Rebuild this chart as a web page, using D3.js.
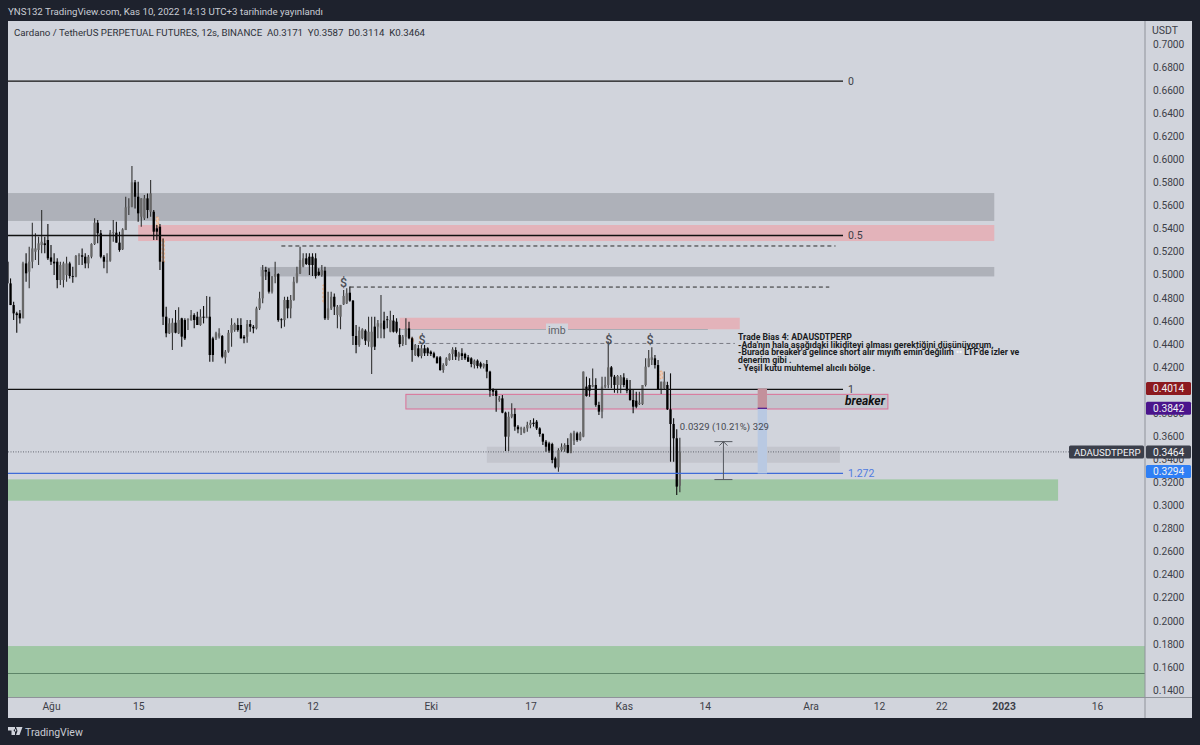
<!DOCTYPE html>
<html>
<head>
<meta charset="utf-8">
<script src="https://cdn.jsdelivr.net/npm/d3@7"></script>
<style>
html, body { margin: 0; padding: 0; background: #1e222d; }
svg { display: block; font-family: Roboto, "Noto Sans", sans-serif; }
</style>
</head>
<body>
<svg id="chart" width="1200" height="745"></svg>
<script>
// 12h candles, first one on 25 Jul 2022
const firstCandle = new Date("2022-07-25T00:00:00Z");
const opens = [.5113,.4925,.4737,.4665,.4665,.4622,.5098,.5026,.5113,.5199,.5214,.5257,.5272,.5301,.5150,.5113,.5113,.4954,.4954,.4997,.5098,.4989,.4983,.5162,.5168,.5156,.5098,.5156,.5266,.5451,.5359,.5156,.5113,.5122,.5364,.5364,.5278,.5220,.5387,.5584,.5590,.5801,.5676,.5503,.5489,.5662,.5546,.5546,.5402,.5416,.5113,.4636,.4492,.4497,.4584,.4492,.4622,.4607,.4607,.4607,.4650,.4636,.4564,.4636,.4627,.4636,.4448,.4448,.4463,.4468,.4283,.4333,.4497,.4520,.4564,.4564,.4463,.4463,.4572,.4549,.4535,.4708,.4795,.5041,.5026,.4853,.4983,.5006,.4613,.4607,.4781,.4708,.4781,.4939,.5012,.5070,.5142,.5156,.5156,.5142,.5026,.4997,.5035,.4622,.4708,.4809,.4650,.4636,.4743,.4752,.4844,.4775,.4469,.4391,.4449,.4515,.4420,.4371,.4550,.4550,.4535,.4602,.4613,.4506,.4602,.4593,.4477,.4399,.4463,.4535,.4449,.4304,.4362,.4295,.4362,.4362,.4333,.4319,.4284,.4284,.4174,.4217,.4261,.4313,.4347,.4284,.4319,.4313,.4284,.4275,.4217,.4255,.4232,.4203,.4226,.4160,.4006,.3995,.3914,.3928,.3804,.3596,.3769,.3793,.3683,.3660,.3631,.3668,.3697,.3717,.3726,.3668,.3619,.3553,.3538,.3532,.3408,.3330,.3480,.3486,.3524,.3457,.3561,.3625,.3567,.3596,.4030,.4044,.4030,.4044,.3871,.3813,.4030,.4044,.4197,.4116,.4044,.4044,.4110,.4087,.4001,.3914,.3908,.3879,.3879,.4044,.4203,.4261,.4275,.4217,.4006,.4015,.4044,.3833,.3706,.3582,.3171];
const highs = [.5156,.4968,.4766,.4679,.4694,.5113,.5185,.5243,.5451,.5359,.5330,.5561,.5330,.5439,.5257,.5185,.5142,.5113,.5113,.5156,.5113,.5070,.5171,.5185,.5228,.5185,.5171,.5272,.5489,.5474,.5387,.5171,.5185,.5387,.5474,.5460,.5373,.5402,.5676,.5662,.5942,.5821,.5806,.5662,.5691,.5705,.5821,.5561,.5431,.5439,.5315,.4723,.4622,.4622,.4694,.4717,.4627,.4622,.4622,.4694,.4665,.4679,.4700,.4729,.4815,.4809,.4463,.4506,.4535,.4477,.4347,.4520,.4622,.4584,.4622,.4622,.4477,.4607,.4607,.4564,.4723,.4853,.5084,.5070,.5055,.4988,.5113,.5012,.4622,.4809,.4809,.4824,.4983,.5070,.5243,.5185,.5185,.5185,.5185,.5185,.5055,.5084,.5070,.4853,.4853,.4838,.4737,.4738,.4868,.4882,.4897,.4781,.4564,.4550,.4535,.4527,.4636,.4636,.4636,.4607,.4824,.4680,.4642,.4688,.4651,.4622,.4535,.4477,.4622,.4593,.4463,.4399,.4391,.4391,.4391,.4371,.4342,.4333,.4295,.4295,.4232,.4284,.4319,.4371,.4371,.4333,.4362,.4324,.4304,.4284,.4266,.4266,.4246,.4232,.4261,.4168,.4015,.4001,.3949,.3957,.3813,.3813,.3885,.3842,.3697,.3683,.3683,.3726,.3741,.3755,.3741,.3677,.3625,.3567,.3553,.3544,.3423,.3495,.3538,.3538,.3582,.3631,.3648,.3639,.3639,.4160,.4116,.4102,.4188,.4102,.3899,.4116,.4116,.4420,.4209,.4131,.4131,.4131,.4145,.4102,.4087,.4001,.3986,.3986,.4044,.4275,.4347,.4371,.4304,.4261,.4073,.4160,.4073,.4145,.3755,.3660,.3587];
const lows = [.4896,.4737,.4607,.4497,.4578,.4622,.4939,.4882,.5055,.5127,.5084,.5185,.5185,.5127,.5084,.4997,.4882,.4911,.4890,.4939,.4968,.4931,.4977,.5084,.5084,.5055,.5055,.5142,.5257,.5272,.5142,.5055,.5012,.5113,.5286,.5278,.5199,.5214,.5387,.5517,.5584,.5575,.5460,.5416,.5474,.5489,.5503,.5301,.5301,.5041,.4564,.4457,.4486,.4347,.4492,.4486,.4376,.4434,.4520,.4601,.4535,.4564,.4558,.4578,.4622,.4246,.4246,.4434,.4448,.4275,.4231,.4324,.4376,.4506,.4506,.4448,.4405,.4411,.4506,.4492,.4526,.4694,.4752,.4954,.4838,.4838,.4925,.4593,.4535,.4549,.4622,.4622,.4775,.4925,.5006,.5064,.5084,.4997,.4989,.4968,.4989,.4983,.4607,.4607,.4694,.4650,.4535,.4527,.4738,.4746,.4766,.4391,.4319,.4376,.4440,.4391,.4376,.4139,.4347,.4449,.4449,.4449,.4535,.4501,.4498,.4492,.4371,.4382,.4391,.4440,.4246,.4295,.4284,.4275,.4295,.4295,.4295,.4275,.4232,.4168,.4151,.4209,.4255,.4261,.4261,.4255,.4261,.4261,.4246,.4197,.4188,.4188,.4188,.4188,.4102,.3943,.3949,.3813,.3899,.3798,.3472,.3472,.3755,.3648,.3625,.3610,.3625,.3639,.3668,.3683,.3654,.3596,.3524,.3466,.3457,.3365,.3321,.3293,.3466,.3466,.3452,.3452,.3524,.3553,.3561,.3590,.3943,.3943,.4024,.3856,.3784,.3755,.4015,.4015,.4015,.3977,.3972,.3972,.4024,.3972,.3908,.3798,.3842,.3871,.3871,.4030,.4197,.4217,.4188,.4001,.3966,.4001,.3827,.3379,.3379,.3090,.3114];
const closes = [.4925,.4737,.4665,.4650,.4622,.5098,.5012,.5113,.5228,.5228,.5272,.5286,.5257,.5142,.5113,.5098,.4954,.5084,.5098,.5098,.4989,.4983,.5162,.5168,.5156,.5098,.5156,.5266,.5451,.5359,.5156,.5113,.5122,.5364,.5370,.5278,.5214,.5393,.5584,.5590,.5801,.5676,.5532,.5662,.5662,.5561,.5705,.5373,.5373,.5113,.4636,.4492,.4578,.4584,.4497,.4607,.4463,.4448,.4613,.4650,.4607,.4564,.4636,.4627,.4636,.4304,.4304,.4492,.4492,.4289,.4333,.4497,.4564,.4572,.4520,.4448,.4448,.4572,.4549,.4535,.4708,.4795,.5041,.5026,.4853,.4983,.5006,.4607,.4607,.4781,.4708,.4781,.4939,.5012,.5127,.5142,.5093,.5084,.5084,.4989,.4997,.5041,.4622,.4708,.4809,.4723,.4723,.4738,.4816,.4839,.4775,.4469,.4391,.4515,.4527,.4428,.4506,.4506,.4376,.4579,.4579,.4527,.4608,.4608,.4506,.4506,.4399,.4463,.4535,.4449,.4347,.4391,.4295,.4362,.4319,.4319,.4313,.4284,.4232,.4174,.4217,.4275,.4313,.4353,.4290,.4319,.4295,.4275,.4246,.4226,.4255,.4209,.4203,.4226,.4160,.3995,.3986,.3949,.3928,.3804,.3596,.3769,.3793,.3683,.3660,.3668,.3668,.3697,.3717,.3706,.3668,.3619,.3553,.3509,.3475,.3394,.3330,.3480,.3509,.3524,.3457,.3619,.3631,.3567,.3625,.4160,.3949,.3995,.4044,.3871,.3813,.4030,.4044,.4197,.4116,.4044,.4122,.4116,.4044,.3995,.3914,.3856,.3856,.3891,.4044,.4203,.4275,.4284,.4217,.4006,.4073,.4073,.3833,.3706,.3582,.3163,.3464];

const priceTicks = d3.range(14, 71, 2).map(d => d / 100);
const timeTicks = ["2022-08-01", "2022-08-15", "2022-09-01", "2022-09-12", "2022-10-01", "2022-10-17", "2022-11-01", "2022-11-14", "2022-12-01", "2022-12-12", "2022-12-22", "2023-01-01", "2023-01-16"];
const timeLabels = ["Ağu", "15", "Eyl", "12", "Eki", "17", "Kas", "14", "Ara", "12", "22", "2023", "16"];

// kind, from, to, top price, bottom price
const zones = [
  ["grey", "2022-07-25", "2022-12-30T12:00Z", .5708, .5466],
  ["red", "2022-08-15", "2022-12-30T12:00Z", .5431, .5292],
  ["grey", "2022-09-03T14:00Z", "2022-12-30T12:00Z", .5067, .4985],
  ["red", "2022-09-26", "2022-11-19T15:00Z", .4627, .4527],
  ["low", "2022-10-10", "2022-12-05T17:00Z", .3509, .3370],
  ["green", "2022-07-25", "2023-01-09T18:00Z", .3226, .3041],
  ["green", "2022-07-25", "2023-02-01", .1781, .1337]
];
// fib levels
const fibLabels = ["0", "0.5", "1", "1.272"];
const fibPrices = [.6679, .5340, .4006, .3277];
const fibEnd = "2022-12-06T05:00Z";
// dashed liquidity lines: from, to, price
const liquidity = [
  ["2022-09-07", "2022-12-05", .5249],
  ["2022-09-18", "2022-12-04", .4893],
  ["2022-09-29", "2022-11-18T20:00Z", .4404]
];
const dollarDates = ["2022-09-17", "2022-09-29T14:00Z", "2022-10-29T14:00Z", "2022-11-05T05:00Z"];
const dollarPrices = [.4893, .4400, .4400, .4400];
// small imbalance boxes: date, top, bottom
const imbalances = [
  ["2022-08-17T22:00Z", .5500, .5414],
  ["2022-08-18T20:00Z", .5309, .5110],
  ["2022-09-13T16:00Z", .4911, .4755],
  ["2022-09-27T20:00Z", .4451, .4417],
  ["2022-11-06T20:00Z", .4165, .4096]
];
const priceBoxes = [.4014, .3842, .3464, .3294];
const boxLabels = ["0.4014", "0.3842", "0.3464", "0.3294"];
const noteLines = [
  "Trade Bias 4: ADAUSDTPERP",
  "-Ada'nın hala aşağıdaki likiditeyi alması gerektiğini düşünüyorum.",
  "-Burada breaker'a gelince short alır mıyım emin değilim",
  "denerim gibi .",
  "- Yeşil kutu muhtemel alıcılı bölge ."
];
const noteTail = "LTF'de izler ve";

const paneLeft = 8, paneRight = 1145, paneTop = 21, paneBottom = 697.5, axisBottom = 718, axisRight = 1192;
const zoneColor = { grey: "#aeb1b9", red: "#e3b3ba", low: "#c3c5cd", green: "#9fc7a4" };
const boxColor = ["#8c1a1f", "#4a148c", "#3b3f4b", "#2f7ff5"];

const x = d3.scaleUtc().domain([new Date("2022-08-01"), new Date("2023-01-16")]).range([51, 1097]);
const y = d3.scaleLinear().domain([.14, .7]).range([690, 44]);
const t = s => x(new Date(s));

const svg = d3.select("#chart");
svg.append("rect").attr("width", 1200).attr("height", 745).attr("fill", "#1e222d");
svg.append("rect").attr("x", paneLeft).attr("y", paneTop).attr("width", axisRight - paneLeft).attr("height", axisBottom - paneTop).attr("fill", "#d1d4dc");

svg.append("clipPath").attr("id", "pane").append("rect")
  .attr("x", paneLeft).attr("y", paneTop).attr("width", paneRight - paneLeft).attr("height", paneBottom - paneTop);
const pane = svg.append("g").attr("clip-path", "url(#pane)");

// zones
pane.selectAll("rect.zone").data(zones).join("rect").attr("class", "zone")
  .attr("x", d => t(d[1])).attr("width", d => t(d[2]) - t(d[1]))
  .attr("y", d => y(d[3])).attr("height", d => y(d[4]) - y(d[3]))
  .attr("fill", d => zoneColor[d[0]]);
pane.append("line").attr("x1", paneLeft).attr("x2", paneRight).attr("y1", y(.1543)).attr("y2", y(.1543))
  .attr("stroke", "#5d8568").attr("stroke-width", 1.2);

// breaker box
pane.append("rect").attr("x", t("2022-09-27")).attr("width", t("2022-12-13T10:00Z") - t("2022-09-27"))
  .attr("y", y(.3963)).attr("height", y(.3836) - y(.3963))
  .attr("fill", "#c3c5cd").attr("stroke", "#dc6f97").attr("stroke-width", 1);

// imb underline
pane.append("line").attr("x1", t("2022-09-26")).attr("x2", t("2022-11-14T12:00Z")).attr("y1", y(.4525)).attr("y2", y(.4525))
  .attr("stroke", "#a9acb4").attr("stroke-width", 1);

// imbalance boxes
pane.selectAll("rect.imb").data(imbalances).join("rect").attr("class", "imb")
  .attr("x", d => t(d[0])).attr("width", 2.5)
  .attr("y", d => y(d[1])).attr("height", d => y(d[2]) - y(d[1]))
  .attr("fill", "#e9c9b6").attr("stroke", "#ef9a5c").attr("stroke-width", .6).attr("stroke-dasharray", "2 2");

// last price dotted
pane.append("line").attr("x1", paneLeft).attr("x2", 1069).attr("y1", y(.3464)).attr("y2", y(.3464))
  .attr("stroke", "#4a4d57").attr("stroke-width", .8).attr("stroke-dasharray", "1 1.5");

// candles
const candles = closes.map((c, i) => ({ date: d3.utcHour.offset(firstCandle, i * 12), o: opens[i], h: highs[i], l: lows[i], c: c }));
const candle = pane.selectAll("g.candle").data(candles).join("g").attr("class", "candle");
candle.append("line")
  .attr("x1", d => x(d.date)).attr("x2", d => x(d.date))
  .attr("y1", d => y(d.h)).attr("y2", d => y(d.l))
  .attr("stroke", d => d.c >= d.o ? "#333" : "#0c0c0c").attr("stroke-width", 1.1);
candle.append("rect")
  .attr("x", d => x(d.date) - 1.15).attr("width", 2.3)
  .attr("y", d => y(Math.max(d.o, d.c)))
  .attr("height", d => Math.max(.8, Math.abs(y(d.o) - y(d.c))))
  .attr("fill", d => d.c >= d.o ? "#686868" : "#000");

// fib levels
const fib = pane.selectAll("g.fib").data(fibPrices).join("g").attr("class", "fib");
fib.append("line").attr("x1", paneLeft).attr("x2", t(fibEnd))
  .attr("y1", d => y(d)).attr("y2", d => y(d))
  .attr("stroke", (d, i) => i === 3 ? "#3f6bd8" : "#111").attr("stroke-width", 1.3);
fib.append("text").attr("x", t(fibEnd) + 5).attr("y", d => y(d) + 4).attr("font-size", 10.5)
  .attr("fill", (d, i) => i === 3 ? "#4f7be0" : "#3d4048").text((d, i) => fibLabels[i]);

// liquidity lines and $ marks
pane.selectAll("line.liq").data(liquidity).join("line").attr("class", "liq")
  .attr("x1", d => t(d[0])).attr("x2", d => t(d[1])).attr("y1", d => y(d[2])).attr("y2", d => y(d[2]))
  .attr("stroke", (d, i) => i === 2 ? "#7a7c84" : "#2a2a2a").attr("stroke-width", 1).attr("stroke-dasharray", "4 3");
pane.selectAll("text.dollar").data(dollarDates).join("text").attr("class", "dollar")
  .attr("x", d => t(d)).attr("y", (d, i) => y(dollarPrices[i])).attr("text-anchor", "middle")
  .attr("font-size", 12.5).attr("font-weight", 500).attr("fill", "#4a4d55").text("$");

// measure tool
const measureFrom = t("2022-11-22T12:00Z"), measureTo = t("2022-11-24");
pane.append("rect").attr("x", measureFrom).attr("width", measureTo - measureFrom)
  .attr("y", y(.4014)).attr("height", y(.3842) - y(.4014)).attr("fill", "#c3919c");
pane.append("rect").attr("x", measureFrom).attr("width", measureTo - measureFrom)
  .attr("y", y(.3842)).attr("height", y(.3277) - y(.3842)).attr("fill", "#b9c9e2");
pane.append("line").attr("x1", measureFrom).attr("x2", measureTo).attr("y1", y(.3842)).attr("y2", y(.3842))
  .attr("stroke", "#4a148c").attr("stroke-width", 1.2);

// ruler
const rulerX = t("2022-11-17"), rulerTop = y(.3553), rulerBottom = y(.3224);
const ruler = pane.append("g").attr("stroke", "#55585f").attr("stroke-width", 1).attr("fill", "none");
ruler.append("line").attr("x1", rulerX).attr("x2", rulerX).attr("y1", rulerTop).attr("y2", rulerBottom);
ruler.append("line").attr("x1", rulerX - 9).attr("x2", rulerX + 9).attr("y1", rulerTop).attr("y2", rulerTop);
ruler.append("line").attr("x1", rulerX - 9).attr("x2", rulerX + 9).attr("y1", rulerBottom).attr("y2", rulerBottom);
ruler.append("path").attr("d", d3.line()([[rulerX - 4, rulerTop + 4], [rulerX, rulerTop], [rulerX + 4, rulerTop + 4]]));

// text annotations
pane.append("text").attr("x", t("2022-11-10")).attr("y", y(.3654)).attr("font-size", 9.5).attr("letter-spacing", .1)
  .attr("fill", "#45484f").text("0.0329 (10.21%) 329");
pane.append("rect").attr("x", 546).attr("y", y(.4525) - 6).attr("width", 22).attr("height", 12).attr("fill", "#d1d4dc");
pane.append("text").attr("x", t("2022-10-21T06:00Z")).attr("y", y(.4525) + 4).attr("text-anchor", "middle").attr("font-size", 10.5)
  .attr("fill", "#5c5f67").text("imb");
pane.append("text").attr("x", t("2022-12-13T10:00Z") - 3).attr("y", y(.3842) - 3).attr("text-anchor", "end")
  .attr("font-size", 12).attr("font-weight", 700).attr("font-style", "italic").attr("fill", "#111").text("breaker");
const note = pane.selectAll("text.note").data(noteLines).join("text").attr("class", "note")
  .attr("x", 738).attr("y", (d, i) => 340 + i * 7.7)
  .attr("font-size", 8.7).attr("font-weight", 700).attr("fill", "#1a1c22").text(d => d);
note.filter((d, i) => i === 2).append("tspan").attr("fill", "#f4f4f4").text(" •• ");
note.filter((d, i) => i === 2).append("tspan").text(noteTail);

// axes
const axisY = svg.append("g").attr("transform", `translate(${paneRight},0)`)
  .call(d3.axisRight(y).tickValues(priceTicks).tickFormat(d3.format(".4f")).tickSize(0).tickPadding(8));
axisY.select(".domain").remove();
axisY.selectAll("text").attr("font-size", 10.2).attr("fill", "#3d4048").attr("font-family", "Roboto");
const axisX = svg.append("g").attr("transform", `translate(0,${paneBottom})`)
  .call(d3.axisBottom(x).tickValues(timeTicks.map(d => new Date(d))).tickFormat((d, i) => timeLabels[i]).tickSize(0).tickPadding(5));
axisX.select(".domain").remove();
axisX.selectAll("text").attr("font-size", 10.3).attr("fill", "#3d4048").attr("font-family", "Roboto");
axisX.selectAll(".tick").filter((d, i) => timeLabels[i] === "2023").select("text").attr("font-weight", 700);

// frame
svg.append("line").attr("x1", paneLeft).attr("x2", axisRight).attr("y1", paneBottom).attr("y2", paneBottom).attr("stroke", "#8f929a");
svg.append("line").attr("x1", paneRight).attr("x2", paneRight).attr("y1", paneTop).attr("y2", axisBottom).attr("stroke", "#8f929a");

// price boxes on the axis
const box = svg.selectAll("g.pbox").data(priceBoxes).join("g").attr("class", "pbox");
box.append("rect").attr("x", paneRight + 1).attr("width", axisRight - paneRight - 2).attr("y", d => y(d) - 6.5).attr("height", 13).attr("rx", 1.5)
  .attr("fill", (d, i) => boxColor[i]);
box.append("text").attr("x", paneRight + 8).attr("y", d => y(d) + 3.6).attr("font-size", 10.2)
  .attr("fill", "#f0f1f4").text((d, i) => boxLabels[i]);
svg.append("rect").attr("x", 1069).attr("y", y(.3464) - 6.5).attr("width", 75).attr("height", 13).attr("rx", 1.5).attr("fill", "#3b3f4b");
svg.append("text").attr("x", 1074).attr("y", y(.3464) + 3.6).attr("font-size", 9.7).attr("fill", "#f0f1f4").text("ADAUSDTPERP");

// header and footer
svg.append("text").attr("x", 8).attr("y", 15).attr("font-size", 9.7).attr("fill", "#c9ccd4").text("YNS132 TradingView.com, Kas 10, 2022 14:13 UTC+3 tarihinde yayınlandı");
svg.append("text").attr("x", 14).attr("y", 36).attr("font-size", 9.7).attr("fill", "#2e3139").attr("xml:space", "preserve")
  .text("Cardano / TetherUS PERPETUAL FUTURES, 12s, BINANCE  A0.3171  Y0.3587  D0.3114  K0.3464");
svg.append("text").attr("x", 1152).attr("y", 34).attr("font-size", 10.5).attr("fill", "#3d4048").text("USDT");

svg.append("path").attr("d", "M8 727h7v8h-3.5v-4.5H8z M16 727h6.5l-3 8h-3.5l1.5-4z M15 729a1.3 1.3 0 1 0 .01 0").attr("fill", "#d1d4dc");
svg.append("text").attr("x", 25).attr("y", 736).attr("font-size", 10.5).attr("fill", "#c9ccd4").text("TradingView");
</script>
</body>
</html>
